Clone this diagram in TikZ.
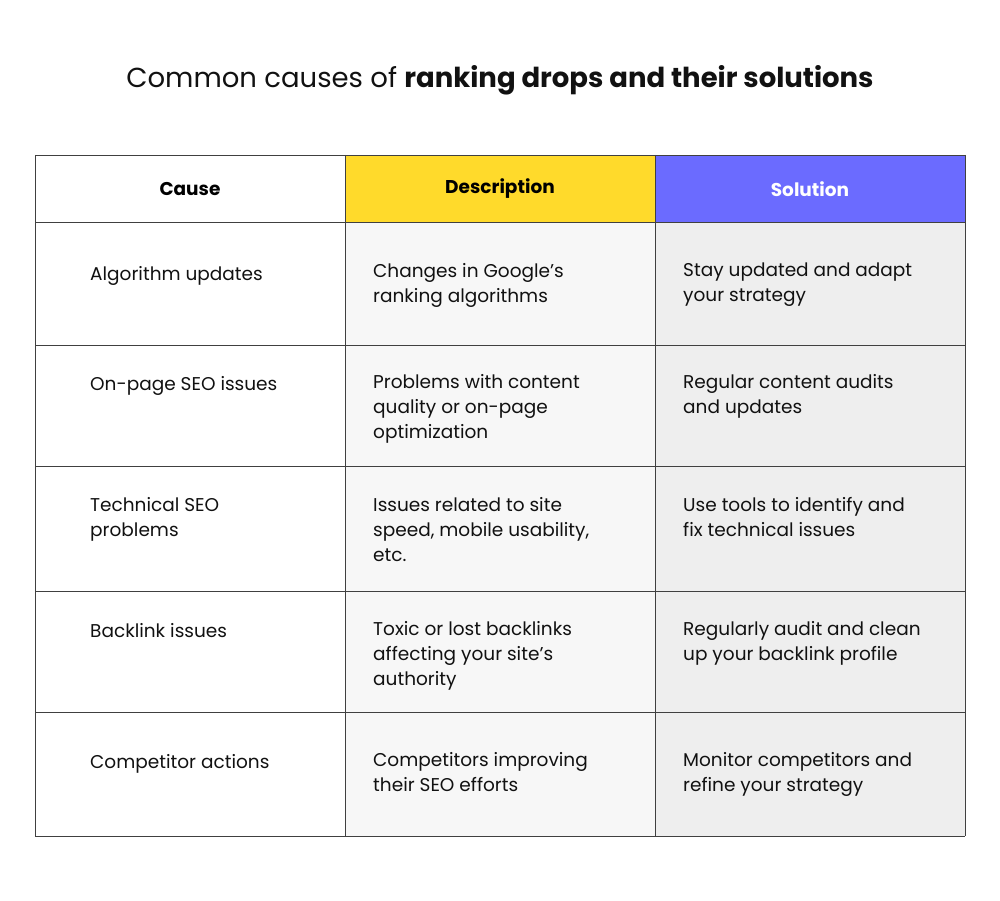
\documentclass[tikz,border=0pt]{standalone}
\usepackage{fontspec}
\setmainfont{Poppins}
\definecolor{yel}{HTML}{FFDA2B}
\definecolor{vio}{HTML}{6B6BFF}
\definecolor{dcell}{HTML}{F7F7F7}
\definecolor{scell}{HTML}{EEEEEE}
\definecolor{txt}{HTML}{111111}
\begin{document}
\begin{tikzpicture}[x=1pt,y=-1pt,
  cell/.style={draw=black!75,line width=0.8pt},
  body/.style={anchor=north west,inner sep=0pt,align=left,font=\fontsize{18.5}{25}\selectfont,text=txt},
  head/.style={font=\fontsize{18.5}{25}\selectfont\bfseries,inner sep=0pt}]
\useasboundingbox (0,0) rectangle (1000,901);
\node[font=\fontsize{27.5}{32}\selectfont,text=txt] (title) at (500,80) {Common causes of \textbf{ranking drops and their solutions}};
% backgrounds
\fill[yel] (345,155) rectangle (655,222);
\fill[vio] (655,155) rectangle (965,222);
\fill[dcell] (345,222) rectangle (655,836);
\fill[scell] (655,222) rectangle (965,836);
% grid
\foreach \y in {155,222,345,466,591,712,836} \draw[cell] (35,\y) -- (965,\y);
\foreach \x in {35,345,655,965} \draw[cell] (\x,155) -- (\x,836);
\node[head] (h1) at (190,189) {Cause};
\node[head] (h2) at (500,189) {Description};
\node[head,text=white] (h3) at (810,189) {Solution};
% rows
\node[body] (c1) at (90,266) {Algorithm updates};
\node[body] (d1) at (373,263) {Changes in Google's\\ranking algorithms};
\node[body] (s1) at (683,263) {Stay updated and adapt\\your strategy};
\node[body] (c2) at (90,376) {On-page SEO issues};
\node[body] (d2) at (373,374) {Problems with content\\quality or on-page\\optimization};
\node[body] (s2) at (683,374) {Regular content audits\\and updates};
\node[body] (c3) at (90,497) {Technical SEO\\problems};
\node[body] (d3) at (373,497) {Issues related to site\\speed, mobile usability,\\etc.};
\node[body] (s3) at (683,497) {Use tools to identify and\\fix technical issues};
\node[body] (c4) at (90,623) {Backlink issues};
\node[body] (d4) at (373,621) {Toxic or lost backlinks\\affecting your site’s\\authority};
\node[body] (s4) at (683,621) {Regularly audit and clean\\up your backlink profile};
\node[body] (c5) at (90,754) {Competitor actions};
\node[body] (d5) at (373,752) {Competitors improving\\their SEO efforts};
\node[body] (s5) at (683,752) {Monitor competitors and\\refine your strategy};
\end{tikzpicture}
\end{document}
